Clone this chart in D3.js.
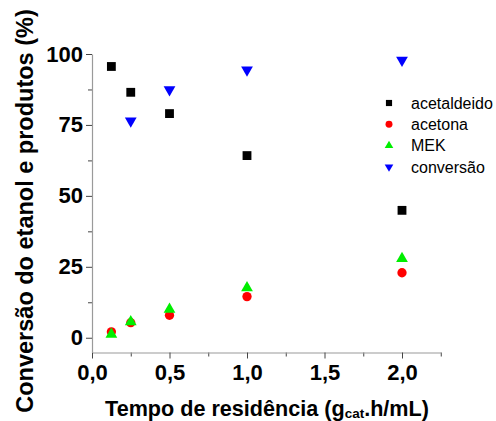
<!DOCTYPE html>
<html><head><meta charset="utf-8">
<script src="https://cdn.jsdelivr.net/npm/d3@7"></script>
<style>
html,body{margin:0;padding:0;background:#fff;}
svg{display:block;font-family:"Liberation Sans",Arial,sans-serif;}
</style></head>
<body>
<svg id="chart" width="496" height="421"></svg>
<script>
const xValues = [0.125, 0.25, 0.5, 1.0, 2.0];
const acetaldeido = [95.6, 86.5, 79.0, 64.2, 44.9];
const acetona = [2.1, 5.3, 7.9, 14.5, 22.9];
const mek = [1.2, 5.6, 10.0, 17.6, 27.9];
const conversao = [null, 76.4, 87.4, 94.4, 97.8];
const seriesNames = ["acetaldeido", "acetona", "MEK", "conversão"];
const xTicks = [0, 0.5, 1.0, 1.5, 2.0];
const xMinor = [0.25, 0.75, 1.25, 1.75, 2.25];
const yTicks = [0, 25, 50, 75, 100];
const yMinor = [12.5, 37.5, 62.5, 87.5];

const svg = d3.select("#chart");
const x = d3.scaleLinear().domain([0, 2.25]).range([92, 440.75]);
const y = d3.scaleLinear().domain([-5.2, 100]).range([352.5, 54]);
const fmt = d => d3.format(".1f")(d).replace(".", ",");

// minor ticks
svg.append("g").attr("transform", "translate(0,352.5)")
  .call(d3.axisBottom(x).tickValues(xMinor).tickSize(4).tickFormat(""))
  .call(g => g.select(".domain").remove())
  .call(g => g.selectAll("line").attr("stroke", "#444"));
svg.append("g").attr("transform", "translate(92,0)")
  .call(d3.axisLeft(y).tickValues(yMinor).tickSize(4).tickFormat(""))
  .call(g => g.select(".domain").remove())
  .call(g => g.selectAll("line").attr("stroke", "#444"));

// major axes
const xa = svg.append("g").attr("transform", "translate(0,352.5)")
  .call(d3.axisBottom(x).tickValues(xTicks).tickSize(6).tickSizeOuter(0).tickPadding(6).tickFormat(fmt));
xa.select(".domain").attr("stroke", "#9a9a9a").attr("stroke-width", 1.2);
xa.selectAll("line").attr("stroke", "#444");
xa.selectAll("text").attr("font-size", 22).attr("font-weight", "bold").attr("fill", "#000")
  .attr("font-family", "'Liberation Sans',Arial,sans-serif");

const ya = svg.append("g").attr("transform", "translate(92,0)")
  .call(d3.axisLeft(y).tickValues(yTicks).tickSize(6).tickSizeOuter(0).tickPadding(3).tickFormat(d3.format("d")));
ya.select(".domain").attr("stroke", "#9a9a9a").attr("stroke-width", 1.2);
ya.selectAll("line").attr("stroke", "#444");
ya.selectAll("text").attr("font-size", 22).attr("font-weight", "bold").attr("fill", "#000")
  .attr("font-family", "'Liberation Sans',Arial,sans-serif");

// markers
const sym = {
  acetaldeido: {type: d3.symbolSquare, size: 78, color: "#000000", data: acetaldeido, rot: 0},
  acetona: {type: d3.symbolCircle, size: 68, color: "#ff0000", data: acetona, rot: 0},
  MEK: {type: d3.symbolTriangle, size: 60, color: "#00ee00", data: mek, rot: 0},
  "conversão": {type: d3.symbolTriangle, size: 60, color: "#0000ff", data: conversao, rot: 180}
};
const order = ["acetaldeido", "conversão", "acetona", "MEK"];
order.forEach(name => {
  const s = sym[name];
  const pts = xValues.map((xv, i) => ({x: xv, y: s.data[i]})).filter(d => d.y !== null);
  svg.append("g").selectAll("path").data(pts).join("path")
    .attr("d", d3.symbol().type(s.type).size(s.size))
    .attr("transform", d => `translate(${x(d.x)},${y(d.y)}) rotate(${s.rot})`)
    .attr("fill", s.color);
});

// legend
const leg = svg.append("g");
seriesNames.forEach((name, i) => {
  const s = sym[name];
  const cy = 103 + i * 21.3;
  leg.append("path")
    .attr("d", d3.symbol().type(s.type).size(s.type === d3.symbolTriangle ? 32 : 38))
    .attr("transform", `translate(389,${cy}) rotate(${s.rot})`)
    .attr("fill", s.color);
  leg.append("text").attr("x", 411).attr("y", cy).attr("dy", "0.35em")
    .attr("font-size", 16).attr("fill", "#000").text(name);
});

// axis titles
svg.append("text")
  .attr("transform", "translate(33,211) rotate(-90)")
  .attr("text-anchor", "middle").attr("font-size", 23.5).attr("font-weight", "bold")
  .text("Conversão do etanol e produtos (%)");

const xt = svg.append("text").attr("x", 267).attr("y", 416)
  .attr("text-anchor", "middle").attr("font-size", 21.6).attr("font-weight", "bold");
xt.append("tspan").text("Tempo de residência (g");
xt.append("tspan").attr("font-size", 13.5).attr("dy", 2).text("cat");
xt.append("tspan").attr("dy", -2).text(".h/mL)");
</script>
</body></html>
